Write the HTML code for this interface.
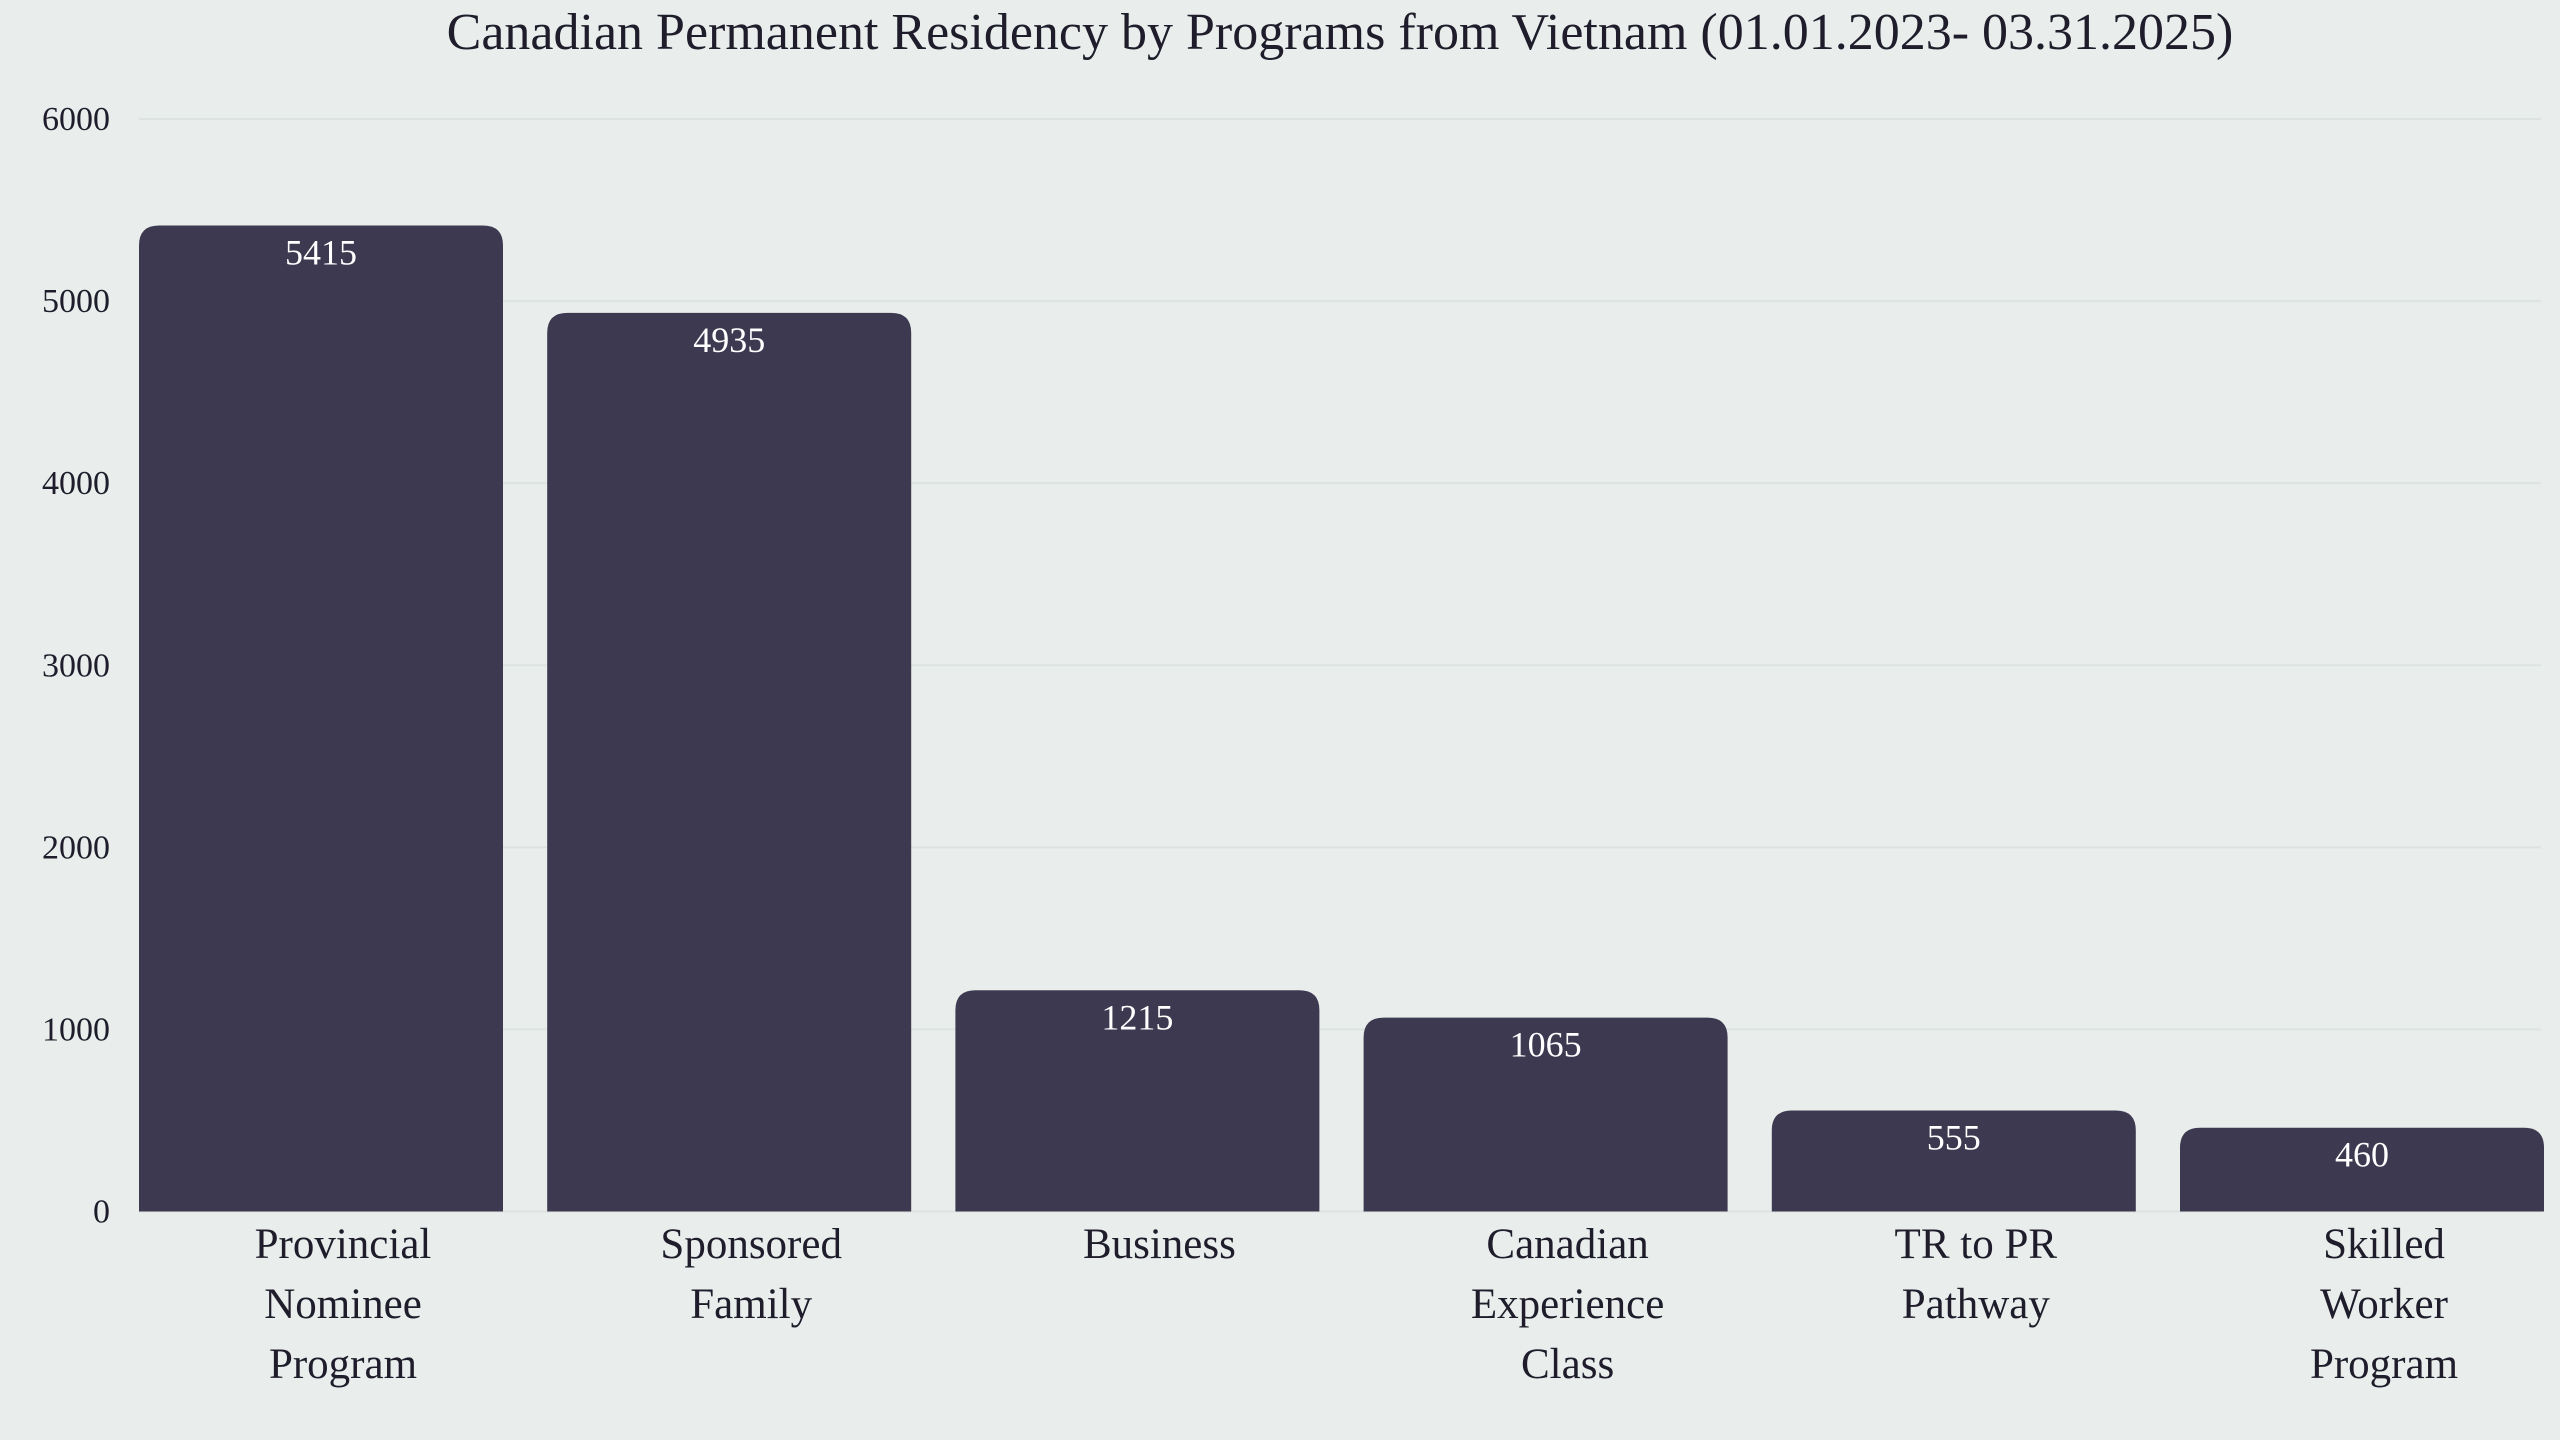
<!DOCTYPE html>
<html><head><meta charset="utf-8"><style>
html,body{margin:0;padding:0;background:#e9eeec;}
svg{display:block;font-family:"Liberation Serif",serif;}
</style></head><body>
<svg id="chart" width="2560" height="1440" viewBox="0 0 2560 1440">
<rect width="2560" height="1440" fill="#e9eeec"/>
<text x="1340" y="49" text-anchor="middle" font-size="52" fill="#1f1d2b">Canadian Permanent Residency by Programs from Vietnam (01.01.2023- 03.31.2025)</text>
<g id="grid"></g><g id="bars"></g><g id="labels"></g>
</svg>
<script>
const categories=[["Provincial","Nominee","Program"],["Sponsored","Family"],["Business"],["Canadian","Experience","Class"],["TR to PR","Pathway"],["Skilled","Worker","Program"]];
const values=[5415,4935,1215,1065,555,460];
const ticks=[0,1000,2000,3000,4000,5000,6000];
const NS="http://www.w3.org/2000/svg";
const y0=1211.5, pxPer=(1211.5-119)/6000;
const yS=v=>y0-v*pxPer;
const x0=139, step=408.2, bw=364;
const xS=i=>x0+i*step;
function mk(t,a){const e=document.createElementNS(NS,t);for(const k in a)e.setAttribute(k,a[k]);return e;}
const grid=document.getElementById('grid'),bars=document.getElementById('bars'),labels=document.getElementById('labels');
ticks.forEach(t=>{
  const l=mk('line',{x1:139,x2:2541,y1:yS(t),y2:yS(t),stroke:'#dde3e1','stroke-width':2});
  
  
  grid.appendChild(l);
  const tx=mk('text',{x:110,y:yS(t)+11,'text-anchor':'end','font-size':34,fill:'#1f1d2b'});
  tx.textContent=t;
  
  
  grid.appendChild(tx);
});
values.forEach((v,i)=>{
  const x=xS(i),y=yS(v),r=20,b=y0;
  const p=mk('path',{d:`M${x},${b}V${y+r}Q${x},${y} ${x+r},${y}H${x+bw-r}Q${x+bw},${y} ${x+bw},${y+r}V${b}Z`,fill:'#3d3950'});
  
  
  bars.appendChild(p);
  const vt=mk('text',{x:x+bw/2,y:y+39,'text-anchor':'middle','font-size':36,fill:'#ffffff'});
  vt.textContent=v;
  
  
  bars.appendChild(vt);
  categories[i].forEach((line,j)=>{
    const ct=mk('text',{x:x+bw/2+22,y:1258+j*60,'text-anchor':'middle','font-size':43,fill:'#1f1d2b'});
    ct.textContent=line;
    
    
    labels.appendChild(ct);
  });
});
</script>
</body></html>
